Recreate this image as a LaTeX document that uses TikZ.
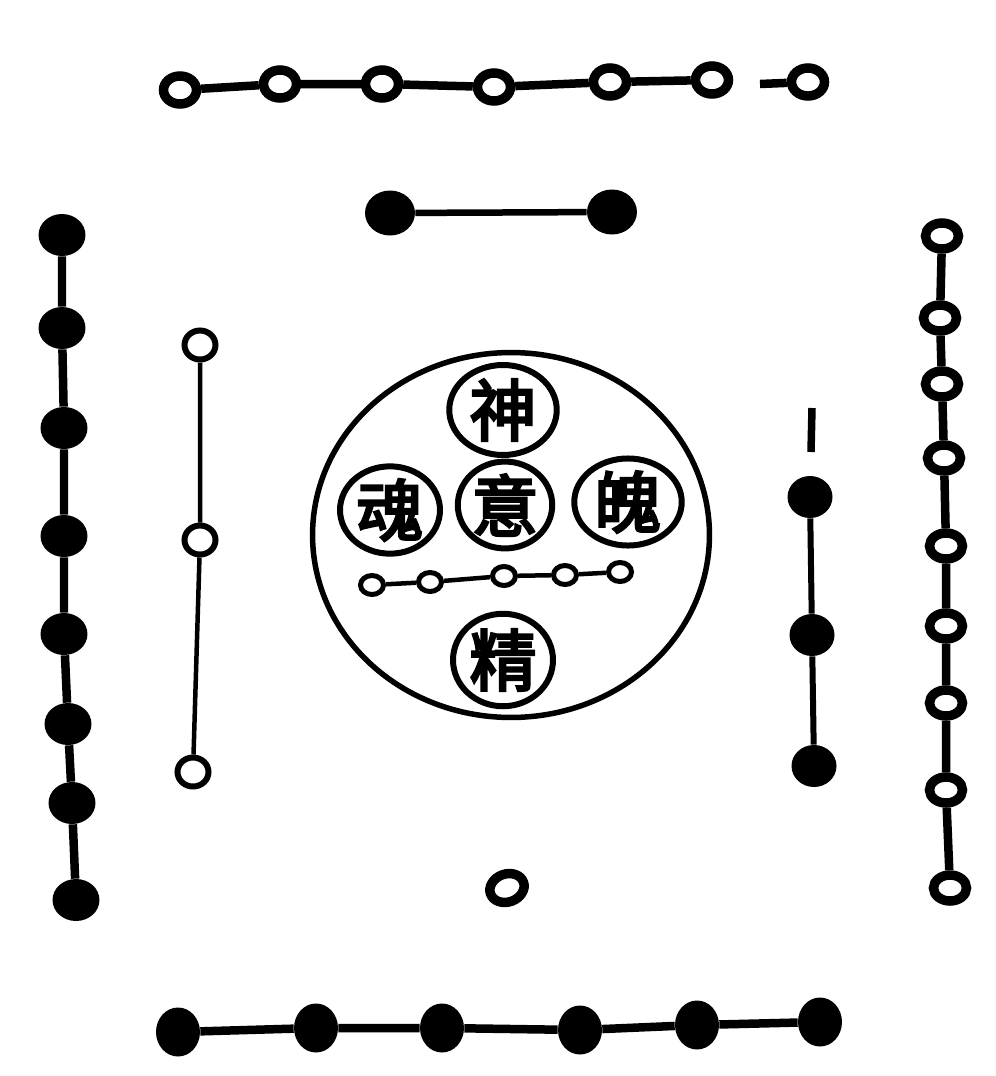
\documentclass[tikz,border=0pt]{standalone}
\usepackage{fontspec}
\newfontfamily\cjk[FakeBold=4]{Noto Sans CJK SC}
\usetikzlibrary{shapes.geometric}

\tikzset{
  yin/.style={ellipse,fill=black,inner sep=0pt,minimum width=9mm,minimum height=8.4mm},
  yang/.style={ellipse,draw=black,fill=white,line width=1.9mm,inner sep=0pt,minimum width=6.6mm,minimum height=5.6mm},
  smallyang/.style={ellipse,draw=black,fill=white,line width=1mm,inner sep=0pt,minimum width=4.6mm,minimum height=3.8mm},
  chain/.style={line width=1.7mm},
  thinchain/.style={line width=0.9mm},
  zi/.style={ellipse,draw=black,line width=1.2mm,inner sep=0pt,minimum width=20mm,minimum height=17mm,font=\cjk\fontsize{38}{38}\selectfont}
}

\begin{document}
\begin{tikzpicture}[x=0.02cm,y=-0.02cm]
    \useasboundingbox (0,0) rectangle (996,1076);

    % top: seven
    \foreach \i/\x/\y in {1/180/90,2/280/84,3/382/84,4/494/87,5/610/82,6/712/80,7/808/82}
        {\node[yang] (top\i) at (\x,\y) {};}
    \draw[chain] (top1) -- (top2) -- (top3) -- (top4) -- (top5) -- (top6);
    \coordinate (topstub) at (760,84);
    \draw[chain] (top7) -- (topstub);

    % top: two
    \node[yin,minimum width=10mm,minimum height=9mm] (two1) at (390,213) {};
    \node[yin,minimum width=10mm,minimum height=9mm] (two2) at (612,212) {};
    \draw[line width=1.3mm] (two1) -- (two2);

    % left: eight
    \foreach \i/\x/\y in {1/62/235,2/62/328,3/64/428,4/64/536,5/64/634,6/68/724,7/72/803,8/76/900}
        {\node[yin,minimum width=9.4mm,minimum height=8.4mm] (left\i) at (\x,\y) {};}
    \draw[chain] (left1) -- (left2) -- (left3) -- (left4) -- (left5) -- (left6) -- (left7) -- (left8);

    % left: three
    \node[yang,line width=1.2mm,minimum width=6.2mm,minimum height=5.8mm] (three1) at (200,345) {};
    \node[yang,line width=1.2mm,minimum width=6.2mm,minimum height=5.8mm] (three2) at (200,540) {};
    \node[yang,line width=1.2mm,minimum width=6.2mm,minimum height=5.8mm] (three3) at (193,772) {};
    \draw[thinchain] (three1) -- (three2) -- (three3);

    % right: nine
    \foreach \i/\x/\y in {1/942/236,2/940/318,3/942/384,4/944/458,5/946/546,6/946/626,7/946/703,8/946/790,9/950/888}
        {\node[yang,minimum width=6.6mm,minimum height=5.2mm] (right\i) at (\x,\y) {};}
    \draw[chain] (right1) -- (right2) -- (right3) -- (right4) -- (right5) -- (right6) -- (right7) -- (right8) -- (right9);

    % right: four
    \coordinate (fourtop) at (812,408);
    \coordinate (fourbot) at (811,452);
    \draw[line width=1.5mm] (fourtop) -- (fourbot);
    \node[yin] (four1) at (810,497) {};
    \node[yin] (four2) at (812,635) {};
    \node[yin] (four3) at (814,766) {};
    \draw[line width=1.2mm] (four1) -- (four2) -- (four3);

    % bottom: one and six
    \node[yang,rotate=20,minimum width=7mm,minimum height=5.6mm] (one) at (507,888) {};
    \foreach \i/\x/\y in {1/178/1032,2/316/1028,3/442/1028,4/580/1030,5/697/1025,6/820/1022}
        {\node[yin,minimum width=8.8mm,minimum height=9.8mm] (bottom\i) at (\x,\y) {};}
    \draw[chain] (bottom1) -- (bottom2) -- (bottom3) -- (bottom4) -- (bottom5) -- (bottom6);

    % centre
    \node[ellipse,draw=black,line width=1.1mm,minimum width=79.4mm,minimum height=73mm] (centre) at (511,535) {};
    \node[zi,minimum width=21.5mm,minimum height=18mm] (shen) at (503,410) {神};
    \node[zi] (hun) at (390,510) {魂};
    \node[zi,minimum width=18.5mm] (yi) at (505,505) {意};
    \node[zi,minimum width=21.5mm] (po) at (628,502) {魄};
    \node[zi,minimum height=18.5mm] (jing) at (503,660) {精};
    \foreach \i/\x/\y in {1/372/585,2/430/582,3/504/576,4/565/575,5/620/572}
        {\node[smallyang] (five\i) at (\x,\y) {};}
    \draw[thinchain] (five1) -- (five2) -- (five3) -- (five4) -- (five5);
\end{tikzpicture}
\end{document}
